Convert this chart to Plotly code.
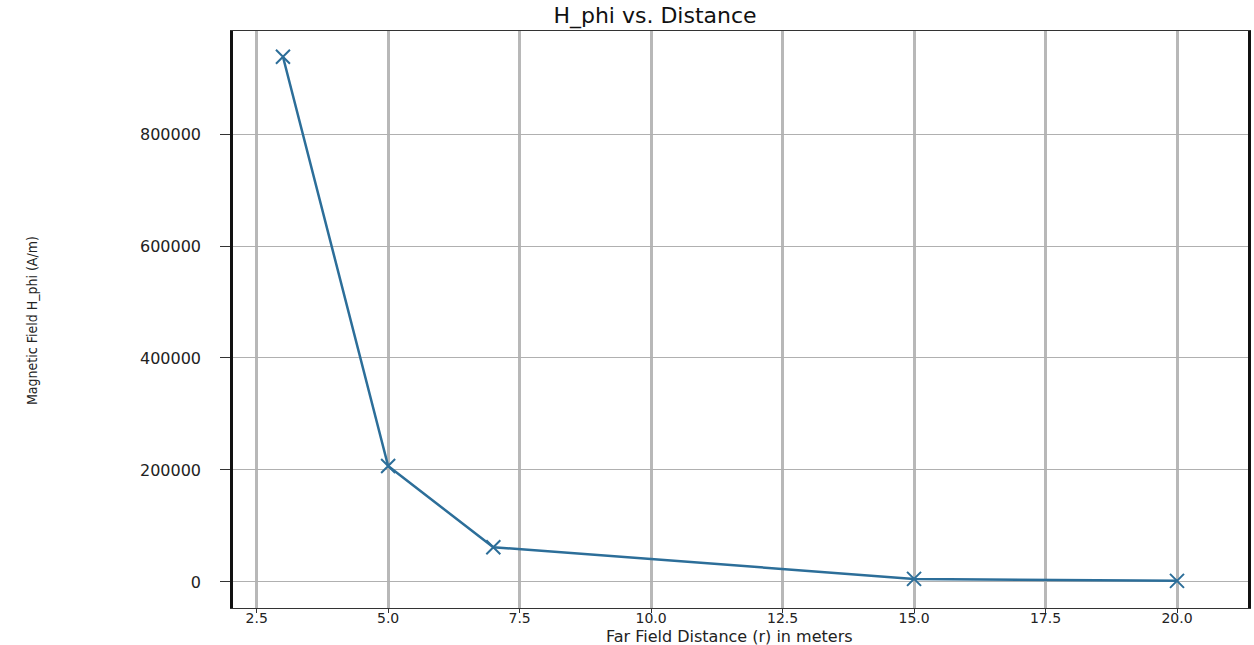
import plotly.graph_objects as go

# Data
distance_m = [3, 5, 7, 15, 20]
h_phi = [938000, 207000, 62000, 5500, 2000]

x_ticks = [2.5, 5.0, 7.5, 10.0, 12.5, 15.0, 17.5, 20.0]
x_tick_labels = ["2.5", "5.0", "7.5", "10.0", "12.5", "15.0", "17.5", "20.0"]
y_ticks = [0, 200000, 400000, 600000, 800000]
y_tick_labels = ["0", "200000", "400000", "600000", "800000"]

line_color = "#2c6e99"

L, R, T, B = 233, 6, 31, 37
W, H = 1254, 645
plot_w = W - L - R
plot_h = H - T - B

fig = go.Figure()
fig.add_trace(go.Scatter(
    x=distance_m, y=h_phi,
    mode="lines+markers",
    line=dict(color=line_color, width=2.5),
    marker=dict(symbol="x-thin", size=14, line=dict(color=line_color, width=2)),
    showlegend=False,
))

fig.update_layout(
    width=W, height=H,
    margin=dict(l=L, r=R, t=T, b=B, autoexpand=False),
    paper_bgcolor="white", plot_bgcolor="white",
    title=dict(text="H_phi vs. Distance", x=655/W, xanchor="center",
               y=1 - 15/H, yanchor="middle", yref="container",
               font=dict(family="DejaVu Sans, sans-serif", size=22, color="#111111")),
    xaxis=dict(
        range=[2.05, 21.35], automargin=False,
        tickmode="array", tickvals=x_ticks, ticktext=x_tick_labels,
        ticks="outside", ticklen=4, tickwidth=1, tickcolor="#333333",
        tickfont=dict(family="DejaVu Sans, sans-serif", size=14, color="#222222"),
        ticklabelstandoff=-7,
        showgrid=True, gridcolor="#b8b8b8", gridwidth=2.5,
        showline=True, linecolor="#333333", linewidth=1, mirror=True,
        zeroline=False,
    ),
    yaxis=dict(
        range=[-46500, 984000], automargin=False,
        tickmode="array", tickvals=y_ticks, ticktext=y_tick_labels,
        ticks="outside", ticklen=10, tickwidth=1, tickcolor="#333333",
        tickfont=dict(family="DejaVu Sans, sans-serif", size=16, color="#222222"),
        ticklabelstandoff=16,
        showgrid=True, gridcolor="#b0b0b0", gridwidth=1,
        showline=True, linecolor="#111111", linewidth=2.5, mirror=True,
        zeroline=False,
    ),
    annotations=[
        dict(text="Far Field Distance (r) in meters", xref="paper", yref="paper",
             x=(729 - L) / plot_w, y=-(636 - (H - B)) / plot_h,
             xanchor="center", yanchor="middle", showarrow=False,
             font=dict(family="DejaVu Sans, sans-serif", size=16, color="#222222")),
        dict(text="Magnetic Field H_phi (A/m)", xref="paper", yref="paper",
             x=(32 - L) / plot_w, y=1 - (321 - T) / plot_h,
             xanchor="center", yanchor="middle", showarrow=False, textangle=-90,
             font=dict(family="Liberation Sans Narrow, DejaVu Sans Condensed, sans-serif",
                       size=14, color="#222222")),
    ],
)

fig.write_html(
    "out.html",
    config={"displayModeBar": False},
    post_script="document.body.style.margin='0';document.body.style.overflow='hidden';",
)
